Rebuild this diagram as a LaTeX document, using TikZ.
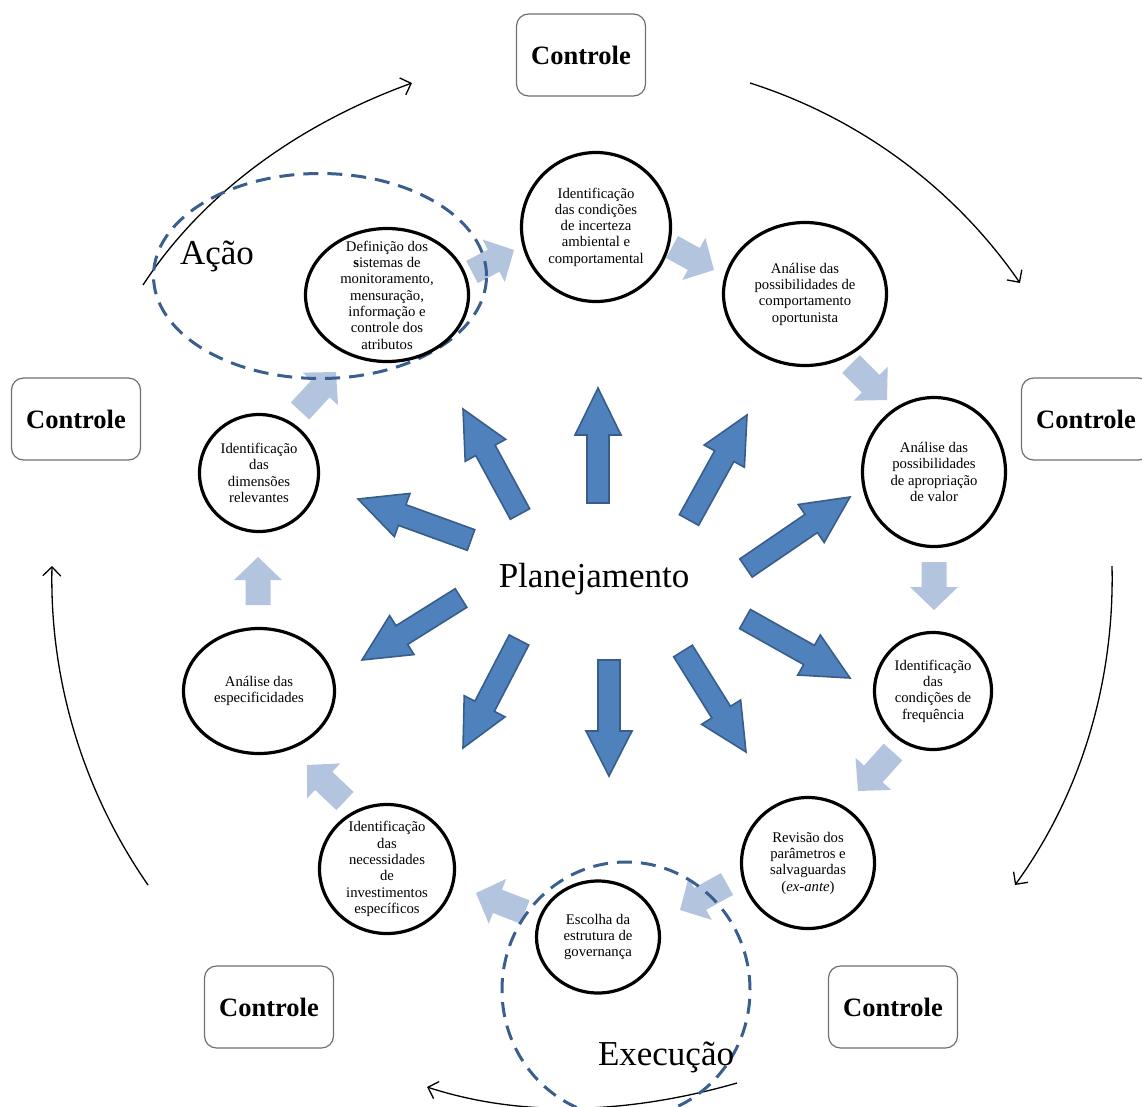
\documentclass[tikz,border=0pt]{standalone}
\usepackage{fontspec}
\setmainfont{Liberation Serif}
\usetikzlibrary{shapes.geometric,calc,arrows.meta}
\definecolor{blueA}{HTML}{4F81BD}
\definecolor{blueB}{HTML}{385D8A}
\definecolor{lightA}{HTML}{B3C4DF}
\definecolor{dashC}{HTML}{3A5F8E}
\definecolor{boxC}{HTML}{707070}
% #1 style, #2 tail, #3 tip, #4 shaft half width, #5 head half width, #6 head length
\newcommand\blockarrow[6]{%
  \coordinate (ba-t) at #2;
  \coordinate (ba-p) at #3;
  \coordinate (ba-h) at ($(ba-p)!#6!(ba-t)$);
  \path[#1] ($(ba-t)!#4!90:(ba-p)$) -- ($(ba-h)!#4!90:(ba-p)$) -- ($(ba-h)!#5!90:(ba-p)$)
    -- (ba-p) -- ($(ba-h)!#5!-90:(ba-p)$) -- ($(ba-h)!#4!-90:(ba-p)$) -- ($(ba-t)!#4!-90:(ba-p)$) -- cycle;
}
\begin{document}
\begin{tikzpicture}[x=1pt,y=-1pt,
  circ/.style={ellipse, draw=black, line width=3.2pt, fill=white, inner sep=0pt},
  lbl/.style={font=\fontsize{14.7}{16.3}\selectfont, align=center, inner sep=0pt},
  ctrl/.style={rectangle, rounded corners=12pt, draw=boxC, line width=1.2pt, fill=white,
    minimum width=129pt, minimum height=82pt, font=\fontsize{26.5}{30}\selectfont\bfseries},
  big/.style={font=\fontsize{35}{40}\selectfont, inner sep=0pt},
  cyc/.style={draw=black, line width=1.3pt, -{Straight Barb[length=9pt,width=18pt]}},
  bigarrow/.style={fill=blueA, draw=blueB, line width=1.6pt, line join=miter},
  lightarrow/.style={fill=lightA},
  dashell/.style={draw=dashC, line width=3pt, dash pattern=on 15pt off 9pt}]
\useasboundingbox (0,0) rectangle (1142,1106);

% cycle arcs
\coordinate (a1s) at (143,285); \coordinate (a1e) at (412,83);
\coordinate (a2s) at (750,83);  \coordinate (a2e) at (1020,283);
\coordinate (a3s) at (1112,566); \coordinate (a3e) at (1015,885);
\coordinate (a4s) at (737,1083); \coordinate (a4e) at (427,1087);
\coordinate (a5s) at (148,885); \coordinate (a5e) at (52,566);
\draw[cyc] (a1s) .. controls (205.7,189) and (304.2,122.2) .. (a1e);
\draw[cyc] (a2s) .. controls (859.7,118) and (954.6,188.3) .. (a2e);
\draw[cyc] (a3s) .. controls (1114.6,680) and (1082,792.8) .. (a3e);
\draw[cyc] (a4s) .. controls (635.5,1112.1) and (527.4,1119.6) .. (a4e);
\draw[cyc] (a5s) .. controls (83.1,791.3) and (49.4,680) .. (a5e);

% light arrows between steps
\blockarrow{lightarrow}{(472,272)}{(514,250)}{12.5pt}{24pt}{23pt}
\blockarrow{lightarrow}{(672,247)}{(714,270)}{12.5pt}{24pt}{23pt}
\blockarrow{lightarrow}{(851,364)}{(887,400)}{12.5pt}{24pt}{23pt}
\blockarrow{lightarrow}{(934,562)}{(934,610)}{12.5pt}{24pt}{23pt}
\blockarrow{lightarrow}{(893,752)}{(858,791)}{12.5pt}{24pt}{23pt}
\blockarrow{lightarrow}{(727,884)}{(680,910)}{12.5pt}{24pt}{23pt}
\blockarrow{lightarrow}{(525,912)}{(476,893)}{12.5pt}{24pt}{23pt}
\blockarrow{lightarrow}{(345,801)}{(307,765)}{12.5pt}{24pt}{23pt}
\blockarrow{lightarrow}{(258,605)}{(258,557)}{12.5pt}{24pt}{23pt}
\blockarrow{lightarrow}{(300,411)}{(336,372)}{12.5pt}{24pt}{23pt}

% big radiating arrows
\blockarrow{bigarrow}{(598,503)}{(598,388)}{11pt}{23pt}{47pt}
\blockarrow{bigarrow}{(689,520)}{(747,415)}{11pt}{23pt}{47pt}
\blockarrow{bigarrow}{(746,568)}{(850,497)}{11pt}{23pt}{47pt}
\blockarrow{bigarrow}{(745,619)}{(850,678)}{11pt}{23pt}{47pt}
\blockarrow{bigarrow}{(683,651)}{(746,752)}{11pt}{23pt}{47pt}
\blockarrow{bigarrow}{(609,660)}{(609,776)}{11pt}{23pt}{45pt}
\blockarrow{bigarrow}{(519,640)}{(463,748)}{11pt}{23pt}{47pt}
\blockarrow{bigarrow}{(461,598)}{(362,660)}{11pt}{23pt}{47pt}
\blockarrow{bigarrow}{(471,540)}{(358,499)}{11pt}{23pt}{47pt}
\blockarrow{bigarrow}{(520,514)}{(463,409)}{11pt}{23pt}{47pt}

% dashed ellipses
\node[ellipse, dashell, minimum width=333pt, minimum height=205pt, inner sep=0pt] (acaoEll) at (320,276) {};
\node[ellipse, dashell, minimum width=248pt, minimum height=256pt, inner sep=0pt] (execEll) at (626,990) {};

% step circles
\node[circ, minimum width=163pt, minimum height=133pt] (c1) at (387,295) {};
\node[circ, minimum width=149pt, minimum height=149pt] (c2) at (596,227) {};
\node[circ, minimum width=163pt, minimum height=143pt] (c3) at (805,294) {};
\node[circ, minimum width=143pt, minimum height=149pt] (c4) at (934,472) {};
\node[circ, minimum width=117pt, minimum height=117pt] (c5) at (933,691) {};
\node[circ, minimum width=133pt, minimum height=131pt] (c6) at (808,863) {};
\node[circ, minimum width=123pt, minimum height=112pt] (c7) at (598,937) {};
\node[circ, minimum width=135pt, minimum height=129pt] (c8) at (387,869) {};
\node[circ, minimum width=151pt, minimum height=125pt] (c9) at (259,691) {};
\node[circ, minimum width=119pt, minimum height=117pt] (c10) at (259,473) {};

\node[lbl] (t1) at (c1) {Definição dos\\\textbf{s}istemas de\\monitoramento,\\mensuração,\\informação e\\controle dos\\atributos};
\node[lbl] (t2) at (c2) {Identificação\\das condições\\de incerteza\\ambiental e\\comportamental};
\node[lbl] (t3) at (c3) {Análise das\\possibilidades de\\comportamento\\oportunista};
\node[lbl] (t4) at (c4) {Análise das\\possibilidades\\de apropriação\\de valor};
\node[lbl] (t5) at (c5) {Identificação\\das\\condições de\\frequência};
\node[lbl] (t6) at (c6) {Revisão dos\\parâmetros e\\salvaguardas\\(\textit{ex-ante})};
\node[lbl] (t7) at (c7) {Escolha da\\estrutura de\\governança};
\node[lbl] (t8) at (c8) {Identificação\\das\\necessidades\\de\\investimentos\\específicos};
\node[lbl] (t9) at (c9) {Análise das\\especificidades};
\node[lbl] (t10) at (c10) {Identificação\\das\\dimensões\\relevantes};

% control boxes
\node[ctrl] (k1) at (581,55) {Controle};
\node[ctrl] (k2) at (76,419) {Controle};
\node[ctrl] (k3) at (1086,419) {Controle};
\node[ctrl] (k4) at (269,1007) {Controle};
\node[ctrl] (k5) at (893,1007) {Controle};

% phase labels
\node[big] (acao) at (217,256) {Ação};
\node[big] (plan) at (594,579) {Planejamento};
\node[big] (exec) at (666,1057) {Execução};
\end{tikzpicture}
\end{document}
